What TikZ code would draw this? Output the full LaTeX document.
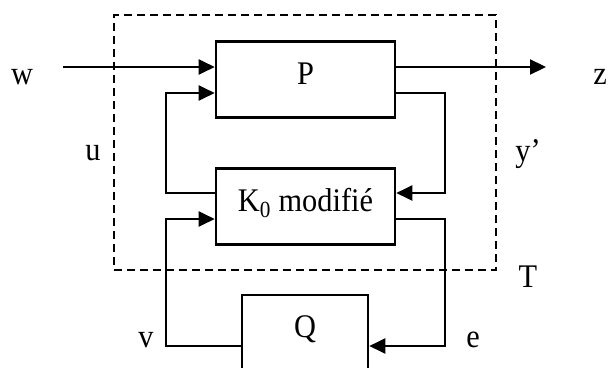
\documentclass[tikz,border=0pt]{standalone}
\usepackage{fontspec}
\setmainfont[FakeStretch=0.92]{Liberation Serif}
\usetikzlibrary{arrows.meta,positioning}

\begin{document}
\begin{tikzpicture}[
    x=1pt,y=-1pt,
    font=\fontsize{33}{36}\selectfont,
    box/.style={draw,rectangle,line width=2.6pt,minimum width=179pt,
                minimum height=76pt,text height=22pt,text depth=13pt,inner sep=0pt},
    wire/.style={line width=2.2pt},
    arr/.style={wire,-{Triangle[length=16pt,width=15pt]}},
    lbl/.style={anchor=base,inner sep=0pt}
  ]
  \useasboundingbox (0,0) rectangle (609,367);
  % systeme T (cadre en pointilles)
  \node[draw,line width=2.2pt,dash pattern=on 8pt off 5pt,
        minimum width=382pt,minimum height=255pt] (tbox) at (305,142.5) {};
  \node[box] (P) at (305.5,79.7) {P};
  \node[box] (K) at (305.5,206.5) {K\textsubscript{0} modifié};
  \node[box,minimum width=126pt,minimum height=75pt] (Q) at (305,332.5) {Q};
  % signaux
  \node[lbl] (w) at (22,84)   {w};
  \node[lbl] (z) at (600,84)  {z};
  \node[lbl] (u) at (93,160)  {u};
  \node[lbl] (y) at (528,161) {y’};
  \node[lbl] (T) at (528,287) {T};
  \node[lbl] (v) at (146,347) {v};
  \node[lbl] (e) at (473,347) {e};
  \coordinate (win)  at (63,67);
  \coordinate (zout) at (546,67);
  \draw[arr] (win) -- (win -| P.west);
  \draw[arr] (P.east |- win) -- (zout);
  % boucles
  \draw[arr] (K.west |- 0,193) -| (166,93) -- (P.west |- 0,93);
  \draw[arr] (P.east |- 0,93) -| (445,193) -- (K.east |- 0,193);
  \draw[arr] (Q.west |- 0,346) -| (166,219) -- (K.west |- 0,219);
  \draw[arr] (K.east |- 0,219) -| (445,346) -- (Q.east |- 0,346);
\end{tikzpicture}
\end{document}
